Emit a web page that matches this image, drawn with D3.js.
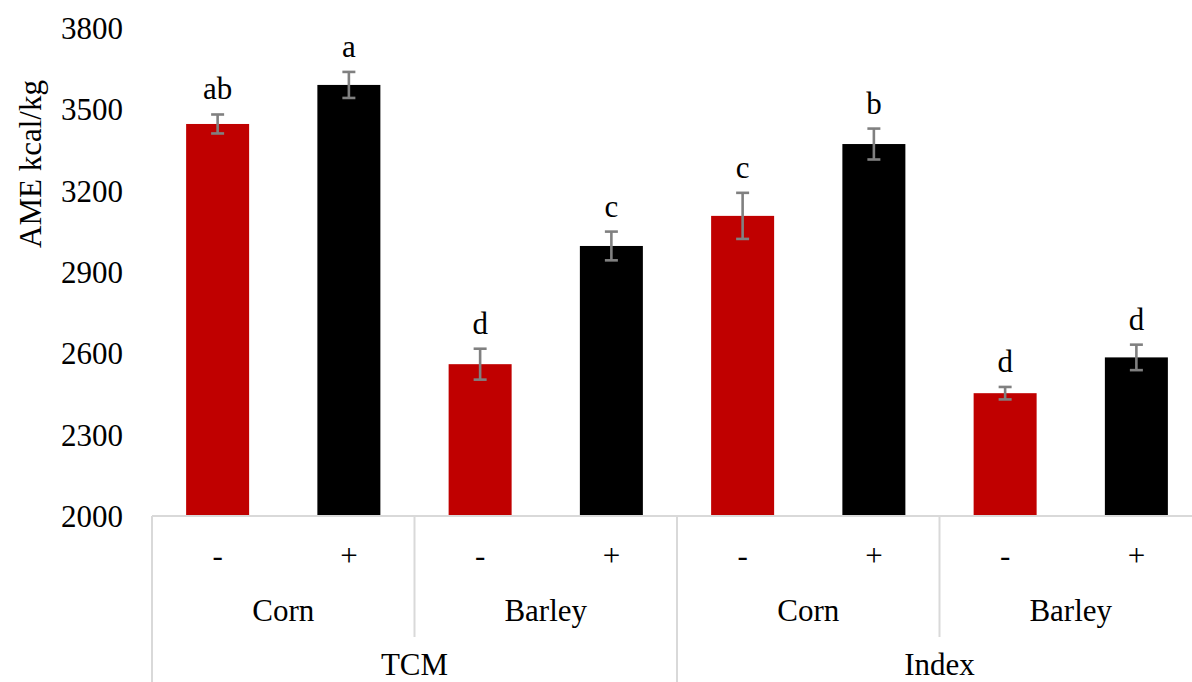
<!DOCTYPE html>
<html>
<head>
<meta charset="utf-8">
<script src="https://cdn.jsdelivr.net/npm/d3@7"></script>
<style>
  html, body { margin: 0; padding: 0; background: #fff; }
  svg { display: block; }
  text { font-family: "Liberation Serif", "Times New Roman", serif; fill: #000; }
</style>
</head>
<body>
<svg id="chart" width="1192" height="682"></svg>
<script>
// AME by method, ingredient and enzyme (-/+)
const methods = ["TCM", "Index"];
const ingredients = ["Corn", "Barley"];
const enzyme = ["-", "+"];
const ameValues = [3446, 3590, 2560, 2996, 3107, 3372, 2453, 2585];
const ameErrors = [35, 48, 57, 53, 85, 57, 23, 47];
const letters = ["ab", "a", "d", "c", "c", "b", "d", "d"];
const yTicks = [2000, 2300, 2600, 2900, 3200, 3500, 3800];

const rows = [];
let k = 0;
methods.forEach(m => ingredients.forEach(ing => enzyme.forEach(e => {
  rows.push({ key: `${m}|${ing}|${e}`, method: m, ingredient: ing, enzyme: e,
              value: ameValues[k], err: ameErrors[k], letter: letters[k] });
  k++;
})));

const svg = d3.select("#chart");
const plotLeft = 152, plotRight = 1202, plotTop = 28, plotBase = 516;
const fontSize = 31;
const axisColor = "#d9d9d9";

const y = d3.scaleLinear().domain([2000, 3800]).range([plotBase, plotTop]);
const x = d3.scaleBand().domain(rows.map(d => d.key)).range([plotLeft, plotRight]).padding(0);
const barW = x.bandwidth() * 0.48;
const color = e => e === "-" ? "#c00000" : "#000000";

// y tick labels (no axis line)
const yAxis = d3.axisLeft(y).tickValues(yTicks).tickFormat(d3.format("d"))
  .tickSize(0).tickPadding(0);
const gy = svg.append("g").attr("transform", `translate(123,0)`).call(yAxis);
gy.select(".domain").remove();
gy.selectAll("text").style("font-family", '"Liberation Serif", serif')
  .style("font-size", fontSize + "px").attr("fill", "#000").attr("dy", "0.34em");

// y axis title
svg.append("text")
  .attr("transform", `translate(41,${(plotTop + 300) / 2}) rotate(-90)`)
  .attr("text-anchor", "middle")
  .style("font-size", fontSize + "px")
  .text("AME kcal/kg");

// bars
svg.append("g").selectAll("rect").data(rows).join("rect")
  .attr("x", d => x(d.key) + (x.bandwidth() - barW) / 2)
  .attr("width", barW)
  .attr("y", d => y(d.value))
  .attr("height", d => y(2000) - y(d.value))
  .attr("fill", d => color(d.enzyme));

// error bars
const eb = svg.append("g").attr("stroke", "#808080").attr("stroke-width", 2.6).attr("fill", "none");
const capW = 6.5;
rows.forEach(d => {
  const cx = x(d.key) + x.bandwidth() / 2;
  const y1 = y(d.value + d.err), y0 = y(d.value - d.err);
  eb.append("line").attr("x1", cx).attr("x2", cx).attr("y1", y1).attr("y2", y0);
  eb.append("line").attr("x1", cx - capW).attr("x2", cx + capW).attr("y1", y1).attr("y2", y1);
  eb.append("line").attr("x1", cx - capW).attr("x2", cx + capW).attr("y1", y0).attr("y2", y0);
});

// significance letters
svg.append("g").selectAll("text").data(rows).join("text")
  .attr("x", d => x(d.key) + x.bandwidth() / 2)
  .attr("y", d => y(d.value + d.err) - 15)
  .attr("text-anchor", "middle")
  .style("font-size", fontSize + "px")
  .text(d => d.letter);

// multi-level category axis
const ax = svg.append("g").attr("stroke", axisColor).attr("stroke-width", 2);
ax.append("line").attr("x1", plotLeft).attr("x2", plotRight).attr("y1", plotBase).attr("y2", plotBase);
const groupEdges = [];
methods.forEach(m => ingredients.forEach(ing => {
  groupEdges.push(x(`${m}|${ing}|-`));
}));
groupEdges.forEach((gx, i) => {
  const isMethodEdge = i % ingredients.length === 0;
  ax.append("line").attr("x1", gx).attr("x2", gx)
    .attr("y1", plotBase).attr("y2", isMethodEdge ? 682 : 637);
});
ax.append("line").attr("x1", plotRight).attr("x2", plotRight).attr("y1", plotBase).attr("y2", 682);

// enzyme labels
svg.append("g").selectAll("text").data(rows).join("text")
  .attr("x", d => x(d.key) + x.bandwidth() / 2)
  .attr("y", 566)
  .attr("text-anchor", "middle")
  .style("font-size", fontSize + "px")
  .text(d => d.enzyme);

// ingredient labels
methods.forEach(m => ingredients.forEach(ing => {
  const x0 = x(`${m}|${ing}|-`), x1 = x(`${m}|${ing}|+`) + x.bandwidth();
  svg.append("text").attr("x", (x0 + x1) / 2).attr("y", 621)
    .attr("text-anchor", "middle").style("font-size", fontSize + "px").text(ing);
}));

// method labels
methods.forEach(m => {
  const x0 = x(`${m}|${ingredients[0]}|-`);
  const x1 = x(`${m}|${ingredients[ingredients.length - 1]}|+`) + x.bandwidth();
  svg.append("text").attr("x", (x0 + x1) / 2).attr("y", 675)
    .attr("text-anchor", "middle").style("font-size", fontSize + "px").text(m);
});
</script>
</body>
</html>
